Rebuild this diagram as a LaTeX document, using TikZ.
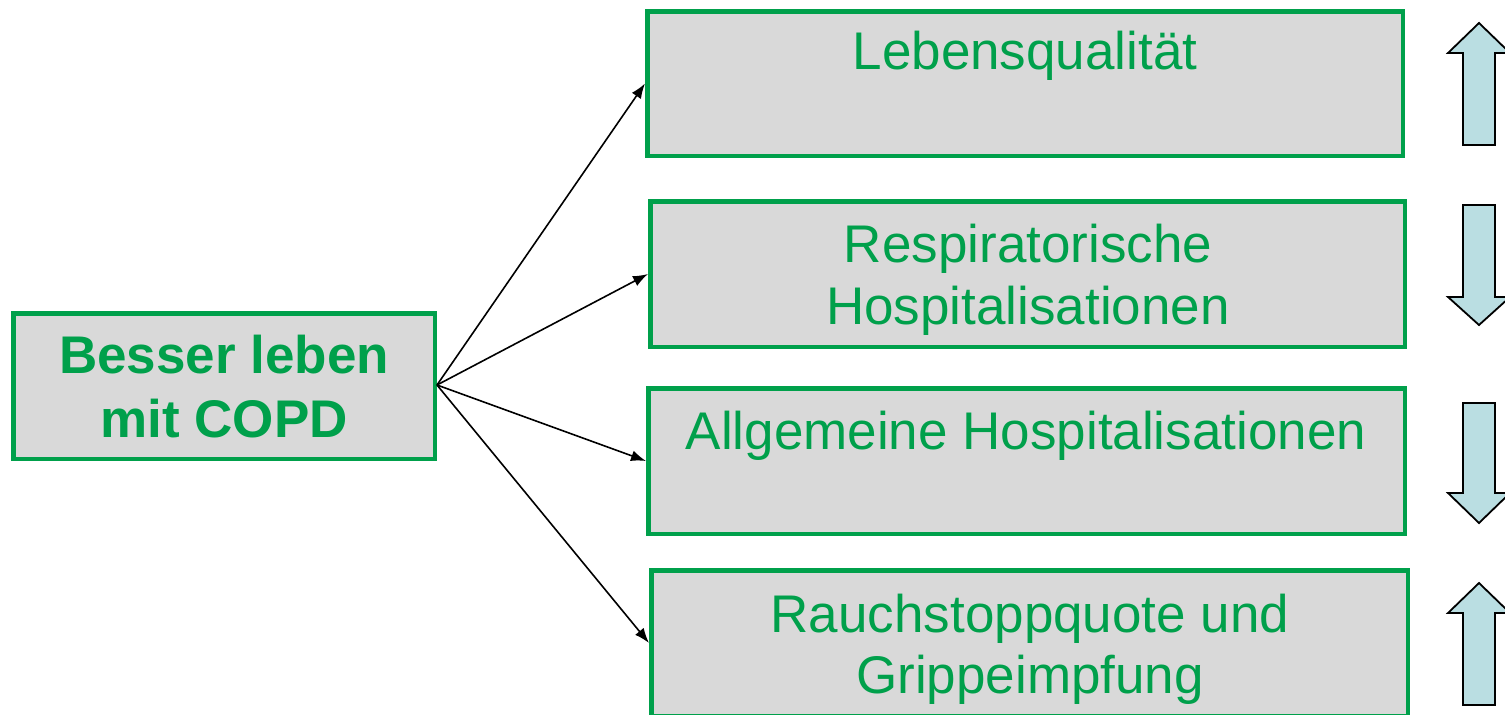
\documentclass[tikz,border=0pt]{standalone}
\usepackage{fontspec}
\setmainfont{Liberation Sans}
\usetikzlibrary{arrows.meta}
\definecolor{boxgreen}{RGB}{0,160,75}
\definecolor{boxgray}{RGB}{217,217,217}
\definecolor{arrowfill}{RGB}{186,222,226}
\tikzset{
  box/.style={draw=boxgreen, fill=boxgray, line width=4.5pt, rectangle, inner sep=0pt},
  lbl/.style={text=boxgreen, font=\fontsize{53}{64}\selectfont, anchor=base, inner sep=0pt},
  blbl/.style={lbl, font=\fontsize{53}{64}\selectfont\bfseries},
  conn/.style={black, line width=1.6pt, -{Latex[length=15pt,width=11pt]}},
  blockarrow/.style={draw=black, fill=arrowfill, line width=1.8pt, line join=miter}
}
\begin{document}
\begin{tikzpicture}[x=1pt, y=-1pt]
\useasboundingbox (0,0) rectangle (1505,715);
% boxes
\node[box, minimum width=421.5pt, minimum height=145.5pt] (L) at (224,386) {};
\node[box, minimum width=755.5pt, minimum height=144.5pt] (b1) at (1025,83.5) {};
\node[box, minimum width=754.5pt, minimum height=145.5pt] (b2) at (1027.5,274) {};
\node[box, minimum width=756.5pt, minimum height=145.5pt] (b3) at (1026.5,461) {};
\node[box, minimum width=756.5pt, minimum height=145.5pt] (b4) at (1029.5,643) {};
% texts
\node[blbl] (tLa) at (224,373) {Besser leben};
\node[blbl] (tLb) at (224,437) {mit COPD};
\node[lbl] (t1) at (1025,69) {Lebensqualität};
\node[lbl] (t2a) at (1028,262) {Respiratorische};
\node[lbl] (t2b) at (1028,324) {Hospitalisationen};
\node[lbl] (t3) at (1026,449) {Allgemeine Hospitalisationen};
\node[lbl] (t4a) at (1030,632) {Rauchstoppquote und};
\node[lbl] (t4b) at (1030,693) {Grippeimpfung};
% connectors
\coordinate (src) at (437,385);
\draw[conn] (src) -- (b1.west);
\draw[conn] (src) -- (b2.west);
\draw[conn] (src) -- (b3.west);
\draw[conn] (src) -- (b4.west);
% block arrows
\draw[blockarrow] (1479,23) -- (1510,53) -- (1495,53) -- (1495,145) -- (1463,145) -- (1463,53) -- (1448,53) -- cycle;
\draw[blockarrow] (1463,205) -- (1495,205) -- (1495,297) -- (1510,297) -- (1479,325) -- (1448,297) -- (1463,297) -- cycle;
\draw[blockarrow] (1463,403) -- (1495,403) -- (1495,493) -- (1510,493) -- (1479,523) -- (1448,493) -- (1463,493) -- cycle;
\draw[blockarrow] (1479,583) -- (1510,613) -- (1495,613) -- (1495,705) -- (1463,705) -- (1463,613) -- (1448,613) -- cycle;
\end{tikzpicture}
\end{document}
